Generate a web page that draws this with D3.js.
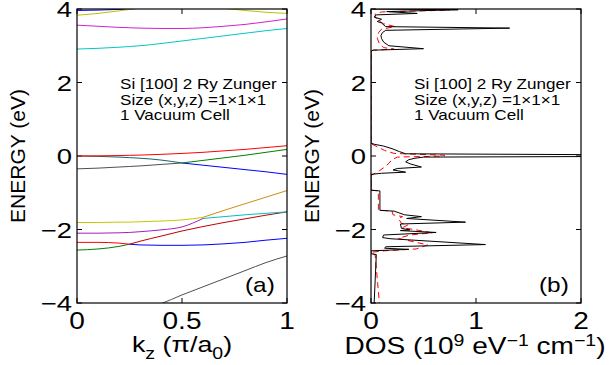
<!DOCTYPE html>
<html>
<head>
<meta charset="utf-8">
<script src="https://cdn.jsdelivr.net/npm/d3@7"></script>
<style>
  body { margin: 0; background: #fff; }
  svg { display: block; }
  text { font-family: "Liberation Sans", Arial, sans-serif; fill: #000; }
</style>
</head>
<body>
<div id="chart"></div>
<script>
// band structure, k_z in units of pi/a0
const kz = [0, 0.1, 0.2, 0.25, 0.3, 0.4, 0.5, 0.6, 0.7, 0.8, 0.9, 1];
const N = null;
const bandBlueTop  = [3.96, 3.97, 3.99, 4.0, 4.02, 4.05, 4.07, 4.07, 4.05, 4.03, 4.02, 4.01];
const bandYellowTop = [3.83, 3.88, 3.95, 3.99, 4.03, 4.07, 4.08, 4.06, 4.02, 3.96, 3.91, 3.88];
const bandMagenta  = [3.56, 3.53, 3.50, 3.49, 3.48, 3.47, 3.47, 3.49, 3.53, 3.58, 3.65, 3.73];
const bandCyanTop  = [2.91, 2.93, 2.96, 2.98, 3.0, 3.06, 3.13, 3.2, 3.27, 3.34, 3.41, 3.47];
const bandRed0     = [0, 0.004, 0.012, 0.018, 0.025, 0.045, 0.07, 0.1, 0.14, 0.18, 0.23, 0.28];
const bandTeal     = [0, -0.01, -0.03, -0.045, -0.06, -0.11, -0.19, N, N, N, N, N];
const bandBlue0    = [N, N, N, N, N, N, -0.19, -0.25, -0.31, -0.37, -0.43, -0.5];
const bandGray0    = [-0.35, -0.33, -0.30, -0.285, -0.27, -0.23, -0.19, N, N, N, N, N];
const bandGreen0   = [N, N, N, N, N, N, -0.19, -0.12, -0.05, 0.02, 0.1, 0.18];
const bandYellowLo = [-1.81, -1.81, -1.80, -1.80, -1.79, -1.77, -1.74, -1.67, N, N, N, N];
const bandOrange   = [N, N, N, N, N, N, N, -1.67, -1.48, -1.30, -1.12, -0.94];
const bandPurple   = [-2.10, -2.10, -2.09, -2.08, -2.06, -2.01, -1.93, -1.70, N, N, N, N];
const bandCyanLo   = [N, N, N, N, N, N, N, -1.70, -1.65, -1.60, -1.56, -1.52];
const bandRedLo    = [-2.35, -2.35, -2.37, -2.40, N, N, N, N, N, N, N, N];
const bandBlueLo   = [N, N, N, -2.40, -2.42, -2.43, -2.43, -2.42, -2.39, -2.35, -2.29, -2.24];
const bandGreenLo  = [-2.56, -2.53, -2.46, -2.40, N, N, N, N, N, N, N, N];
const bandRedLo2   = [N, N, N, -2.40, -2.32, -2.18, -2.04, -1.92, -1.81, -1.71, -1.61, -1.52];
const bandGrayLo   = [N, N, N, N, -4.2, -4.02, -3.78, -3.56, -3.34, -3.12, -2.9, -2.72];

const bands = [
  [bandBlueTop, '#0000ff'], [bandYellowTop, '#bfbf00'], [bandMagenta, '#d020d0'],
  [bandCyanTop, '#00c8c8'], [bandGray0, '#505050'], [bandTeal, '#106a60'],
  [bandBlue0, '#0000ff'], [bandGreen0, '#008000'], [bandRed0, '#ff0000'],
  [bandGrayLo, '#505050'], [bandGreenLo, '#008000'], [bandRedLo2, '#c00000'],
  [bandBlueLo, '#0000ff'], [bandRedLo, '#ff0000'], [bandCyanLo, '#00c0c0'],
  [bandPurple, '#a020c0'], [bandYellowLo, '#c8c800'], [bandOrange, '#d08c10']
];

// density of states, 1e9 eV^-1 cm^-1
const eBlack = [4.0, 3.98, 3.93, 3.88, 3.84, 3.78, 3.72, 3.66, 3.62, 3.52, 3.48, 3.42, 3.36, 3.28, 3.2, 3.1, 3.0, 2.92, 2.88, 2.85,
  0.35, 0.32, 0.27, 0.2, 0.12, 0.06, 0.03, -0.01, -0.03, -0.06, -0.1, -0.16, -0.22, -0.3, -0.34, -0.38, -0.44, -0.47, -0.5,
  -0.93, -0.95, -1.48, -1.5, -1.6, -1.65, -1.7, -1.8, -1.85, -1.97, -2.01, -2.03, -2.08, -2.15, -2.22, -2.25, -2.41, -2.47,
  -2.51, -2.54, -2.58, -2.66, -2.68, -2.72, -4.0];
const dosBlack = [0.02, 0.83, 0.15, 0.44, 0.05, 0.03, 0.1, 0.06, 0.1, 0.14, 1.32, 0.14, 0.11, 0.095, 0.1, 0.12, 0.17, 0.5, 0.02, 0,
  0, 0.03, 0.12, 0.2, 0.27, 0.33, 2.6, 2.6, 0.5, 0.42, 0.36, 0.33, 0.38, 0.48, 0.25, 0.21, 0.33, 0.1, 0,
  0, 0.085, 0.085, 0.22, 0.32, 0.48, 0.34, 0.9, 0.28, 0.29, 0.37, 0.28, 0.62, 0.12, 0.11, 0.18, 1.09, 0.14,
  0.13, 0.36, 0, 0, 0.05, 0.05, 0.03];
const eRed = [4.02, 3.97, 3.92, 3.86, 3.78, 3.7, 3.6, 3.52, 3.45, 3.35, 3.2, 3.05, 2.95, 2.91, 2.88, 2.86,
  0.34, 0.25, 0.15, 0.07, 0.02, 0.0, -0.03, -0.1, -0.2, -0.3, -0.4, -0.5, -0.52,
  -0.93, -0.95, -1.47, -1.5, -1.6, -1.65, -1.7, -1.83, -1.88, -1.95, -2.02, -2.09, -2.15, -2.24, -2.42, -2.53, -2.58, -2.62,
  -2.7, -4.0];
const dosRed = [0.6, 0.75, 0.1, 0.04, 0.04, 0.06, 0.12, 0.23, 0.1, 0.07, 0.06, 0.08, 0.12, 0.22, 0.02, 0,
  0, 0.06, 0.13, 0.22, 0.7, 0.7, 0.25, 0.2, 0.17, 0.13, 0.08, 0.02, 0,
  0, 0.07, 0.07, 0.2, 0.21, 0.3, 0.26, 0.29, 0.35, 0.3, 0.45, 0.58, 0.37, 0.26, 0.54, 0.43, 0.13, 0,
  0.04, 0.08];

const energyTicks = [-4, -2, 0, 2, 4];
const kTicks = [0, 0.5, 1];
const dosTicks = [0, 1, 2];
const noteLines = ['Si [100] 2 Ry Zunger', 'Size (x,y,z) =1\u00d71\u00d71', '1 Vacuum Cell'];

const width = 610, height = 365;
const SX = 1.22; // text in the original is stretched sideways
const plotTop = 9, plotBottom = 303;

const svg = d3.select('#chart').append('svg')
  .attr('width', width)
  .attr('height', height);

const y = d3.scaleLinear().domain([-4, 4]).range([plotBottom, plotTop]);

function label(g, x, yy, str, size, anchor) {
  return g.append('text')
    .attr('transform', `translate(${x},${yy}) scale(${SX},1)`)
    .attr('text-anchor', anchor || 'start')
    .style('font-size', size + 'px')
    .text(str);
}

function drawFrame(x, xTicks, id, tag) {
  const g = svg.append('g');
  const [x0, x1] = x.range();

  svg.append('clipPath').attr('id', id)
    .append('rect').attr('x', x0).attr('y', plotTop).attr('width', x1 - x0).attr('height', plotBottom - plotTop);

  // ticks on all four sides, pointing in
  energyTicks.forEach(t => {
    g.append('line').attr('x1', x0).attr('x2', x0 + 5).attr('y1', y(t)).attr('y2', y(t)).attr('stroke', '#000');
    g.append('line').attr('x1', x1).attr('x2', x1 - 5).attr('y1', y(t)).attr('y2', y(t)).attr('stroke', '#000');
    label(g, x0 - 5, y(t) + 8.2, t < 0 ? '\u2212' + Math.abs(t) : String(t), 22.5, 'end');
  });
  xTicks.forEach(t => {
    g.append('line').attr('x1', x(t)).attr('x2', x(t)).attr('y1', plotBottom).attr('y2', plotBottom - 5).attr('stroke', '#000');
    g.append('line').attr('x1', x(t)).attr('x2', x(t)).attr('y1', plotTop).attr('y2', plotTop + 5).attr('stroke', '#000');
    label(g, x(t), 329, String(t), 23, 'middle');
  });

  noteLines.forEach((s, i) => {
    label(g, x0 + 43, 89 + i * 15.5, s, 14, 'start');
  });
  label(g, x1 - 42, 292, tag, 20, 'start');

  g.append('text')
    .attr('transform', `translate(${x0 - 52},${y(0)}) rotate(-90)`)
    .attr('text-anchor', 'middle')
    .style('font-size', '21px')
    .text('ENERGY (eV)');

  return g;
}

function drawBox(x) {
  const [x0, x1] = x.range();
  svg.append('rect')
    .attr('x', x0).attr('y', plotTop).attr('width', x1 - x0).attr('height', plotBottom - plotTop)
    .attr('fill', 'none').attr('stroke', '#000').attr('stroke-width', 1.2);
}

// ---- panel (a): bands
const xk = d3.scaleLinear().domain([0, 1]).range([77, 287]);
drawFrame(xk, kTicks, 'clipA', '(a)');

const bandLine = d3.line()
  .defined(d => d[1] !== null)
  .x(d => xk(d[0]))
  .y(d => y(d[1]))
  .curve(d3.curveMonotoneX);

const plotA = svg.append('g').attr('clip-path', 'url(#clipA)');
bands.forEach(([vals, color]) => {
  plotA.append('path')
    .datum(kz.map((k, i) => [k, vals[i]]))
    .attr('d', bandLine)
    .attr('fill', 'none')
    .attr('stroke', color)
    .attr('stroke-width', 1);
});
drawBox(xk);

const xa = svg.append('text')
  .attr('transform', `translate(182,352) scale(${SX},1)`)
  .attr('text-anchor', 'middle')
  .style('font-size', '22px');
xa.append('tspan').text('k');
xa.append('tspan').attr('dy', 7).style('font-size', '16px').text('z');
xa.append('tspan').attr('dy', -7).text(' (\u03c0/a');
xa.append('tspan').attr('dy', 7).style('font-size', '16px').text('0');
xa.append('tspan').attr('dy', -7).text(')');

// ---- panel (b): DOS
const xd = d3.scaleLinear().domain([0, 2]).range([371, 581]);
drawFrame(xd, dosTicks, 'clipB', '(b)');

const dosLine = d3.line()
  .x(d => xd(d[1]))
  .y(d => y(d[0]));

const plotB = svg.append('g').attr('clip-path', 'url(#clipB)');
plotB.append('path')
  .datum(eRed.map((e, i) => [e, dosRed[i]]))
  .attr('d', dosLine)
  .attr('fill', 'none')
  .attr('stroke', '#ff0000')
  .attr('stroke-width', 1)
  .attr('stroke-dasharray', '6,4');
plotB.append('path')
  .datum(eBlack.map((e, i) => [e, dosBlack[i]]))
  .attr('d', dosLine)
  .attr('fill', 'none')
  .attr('stroke', '#000')
  .attr('stroke-width', 1);
drawBox(xd);

const xb = svg.append('text')
  .attr('transform', `translate(475,354) scale(${SX},1)`)
  .attr('text-anchor', 'middle')
  .style('font-size', '23px');
xb.append('tspan').text('DOS (10');
xb.append('tspan').attr('dy', -8).style('font-size', '16px').text('9');
xb.append('tspan').attr('dy', 8).text(' eV');
xb.append('tspan').attr('dy', -8).style('font-size', '16px').text('\u22121');
xb.append('tspan').attr('dy', 8).text(' cm');
xb.append('tspan').attr('dy', -8).style('font-size', '16px').text('\u22121');
xb.append('tspan').attr('dy', 8).text(')');
</script>
</body>
</html>
